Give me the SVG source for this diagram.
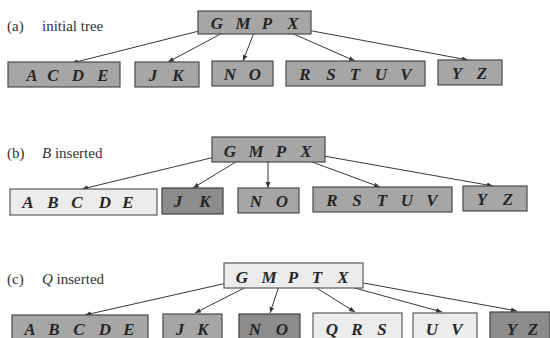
<svg xmlns="http://www.w3.org/2000/svg" width="550" height="338" viewBox="0 0 550 338">
  <style>
    .mid { fill: #a6a6a6; stroke: #4a4a4a; stroke-width: 1.2; }
    .dark { fill: #8c8c8c; stroke: #404040; stroke-width: 1.2; }
    .light { fill: #ececec; stroke: #5a5a5a; stroke-width: 1.2; }
    .key { font-family: "Liberation Serif", "Times New Roman", serif; font-style: italic; font-weight: bold; font-size: 17px; fill: #262626; text-anchor: middle; }
    .cap { font-family: "Liberation Serif", "Times New Roman", serif; font-size: 15px; fill: #333; }
    .edge { stroke: #383838; stroke-width: 1; fill: none; marker-end: url(#arr); }
  </style>
  <defs>
    <marker id="arr" viewBox="0 0 10 10" refX="10" refY="5" markerWidth="6" markerHeight="6" markerUnits="userSpaceOnUse" orient="auto">
      <path d="M0,1 L10,5 L0,9 z" fill="#333"/>
    </marker>
  </defs>
  <rect width="550" height="338" fill="#ffffff"/>

  <!-- captions -->
  <g id="captions">
    <text class="cap" x="7" y="31">(a)</text>
    <text class="cap" x="42" y="31">initial tree</text>
    <text class="cap" x="7" y="158">(b)</text>
    <text class="cap" x="42" y="158"><tspan font-style="italic">B</tspan> inserted</text>
    <text class="cap" x="7" y="284">(c)</text>
    <text class="cap" x="42" y="284"><tspan font-style="italic">Q</tspan> inserted</text>
  </g>

  <!-- connectors -->
  <g id="connectors">
    <!-- (a) -->
    <line class="edge" x1="203" y1="30" x2="72" y2="63"/>
    <line class="edge" x1="230" y1="29" x2="168" y2="62"/>
    <line class="edge" x1="255" y1="30" x2="243" y2="61"/>
    <line class="edge" x1="280" y1="28" x2="355" y2="61"/>
    <line class="edge" x1="307" y1="30" x2="468" y2="60"/>
    <!-- (b) -->
    <line class="edge" x1="215" y1="157" x2="82" y2="189"/>
    <line class="edge" x1="244" y1="157" x2="193" y2="188"/>
    <line class="edge" x1="268" y1="157" x2="268" y2="188"/>
    <line class="edge" x1="293" y1="155" x2="380" y2="187"/>
    <line class="edge" x1="318" y1="155" x2="493" y2="186"/>
    <!-- (c) -->
    <line class="edge" x1="227" y1="283" x2="85" y2="315"/>
    <line class="edge" x1="256" y1="282" x2="195" y2="313"/>
    <line class="edge" x1="280" y1="283" x2="270" y2="313"/>
    <line class="edge" x1="307" y1="282" x2="355" y2="312"/>
    <line class="edge" x1="333" y1="282" x2="442" y2="312"/>
    <line class="edge" x1="358" y1="282" x2="517" y2="311"/>
  </g>

  <!-- (a) initial tree -->
  <g id="a-root">
    <rect class="mid" x="198" y="11" width="113" height="23"/>
    <text class="key" y="29"><tspan x="217">G</tspan><tspan x="243">M</tspan><tspan x="267">P</tspan><tspan x="293">X</tspan></text>
  </g>
  <g id="a-acde">
    <rect class="mid" x="8" y="62" width="112" height="25"/>
    <text class="key" y="81"><tspan x="32">A</tspan><tspan x="53">C</tspan><tspan x="78">D</tspan><tspan x="103">E</tspan></text>
  </g>
  <g id="a-jk">
    <rect class="mid" x="135" y="62" width="64" height="25"/>
    <text class="key" y="81"><tspan x="153">J</tspan><tspan x="178">K</tspan></text>
  </g>
  <g id="a-no">
    <rect class="mid" x="212" y="61" width="61" height="25"/>
    <text class="key" y="80"><tspan x="230">N</tspan><tspan x="255">O</tspan></text>
  </g>
  <g id="a-rstuv">
    <rect class="mid" x="286" y="61" width="139" height="25"/>
    <text class="key" y="80"><tspan x="305">R</tspan><tspan x="331">S</tspan><tspan x="355">T</tspan><tspan x="381">U</tspan><tspan x="406">V</tspan></text>
  </g>
  <g id="a-yz">
    <rect class="mid" x="438" y="60" width="64" height="25"/>
    <text class="key" y="79"><tspan x="457">Y</tspan><tspan x="482">Z</tspan></text>
  </g>

  <!-- (b) B inserted -->
  <g id="b-root">
    <rect class="mid" x="212" y="137" width="113" height="25"/>
    <text class="key" y="157"><tspan x="230">G</tspan><tspan x="256">M</tspan><tspan x="281">P</tspan><tspan x="306">X</tspan></text>
  </g>
  <g id="b-abcde">
    <rect class="light" x="10" y="189" width="147" height="26"/>
    <text class="key" y="208"><tspan x="28">A</tspan><tspan x="53">B</tspan><tspan x="77">C</tspan><tspan x="105">D</tspan><tspan x="128">E</tspan></text>
  </g>
  <g id="b-jk">
    <rect class="dark" x="162" y="188" width="61" height="26"/>
    <text class="key" y="207"><tspan x="178">J</tspan><tspan x="205">K</tspan></text>
  </g>
  <g id="b-no">
    <rect class="mid" x="238" y="188" width="61" height="25"/>
    <text class="key" y="207"><tspan x="256">N</tspan><tspan x="282">O</tspan></text>
  </g>
  <g id="b-rstuv">
    <rect class="mid" x="313" y="187" width="139" height="25"/>
    <text class="key" y="206"><tspan x="332">R</tspan><tspan x="357">S</tspan><tspan x="382">T</tspan><tspan x="407">U</tspan><tspan x="432">V</tspan></text>
  </g>
  <g id="b-yz">
    <rect class="mid" x="463" y="186" width="64" height="25"/>
    <text class="key" y="205"><tspan x="482">Y</tspan><tspan x="508">Z</tspan></text>
  </g>

  <!-- (c) Q inserted -->
  <g id="c-root">
    <rect class="light" x="224" y="263" width="139" height="25"/>
    <text class="key" y="283"><tspan x="242">G</tspan><tspan x="269">M</tspan><tspan x="293">P</tspan><tspan x="317">T</tspan><tspan x="343">X</tspan></text>
  </g>
  <g id="c-abcde">
    <rect class="mid" x="12" y="315" width="136" height="24"/>
    <text class="key" y="335"><tspan x="30">A</tspan><tspan x="54">B</tspan><tspan x="79">C</tspan><tspan x="105">D</tspan><tspan x="129">E</tspan></text>
  </g>
  <g id="c-jk">
    <rect class="mid" x="163" y="314" width="59" height="25"/>
    <text class="key" y="335"><tspan x="180">J</tspan><tspan x="203">K</tspan></text>
  </g>
  <g id="c-no">
    <rect class="dark" x="239" y="314" width="61" height="25"/>
    <text class="key" y="335"><tspan x="255">N</tspan><tspan x="282">O</tspan></text>
  </g>
  <g id="c-qrs">
    <rect class="light" x="313" y="313" width="89" height="26"/>
    <text class="key" y="335"><tspan x="332">Q</tspan><tspan x="357">R</tspan><tspan x="382">S</tspan></text>
  </g>
  <g id="c-uv">
    <rect class="light" x="413" y="313" width="64" height="26"/>
    <text class="key" y="335"><tspan x="432">U</tspan><tspan x="457">V</tspan></text>
  </g>
  <g id="c-yz">
    <rect class="dark" x="490" y="312" width="60" height="27"/>
    <text class="key" y="335"><tspan x="512">Y</tspan><tspan x="533">Z</tspan></text>
  </g>
</svg>
